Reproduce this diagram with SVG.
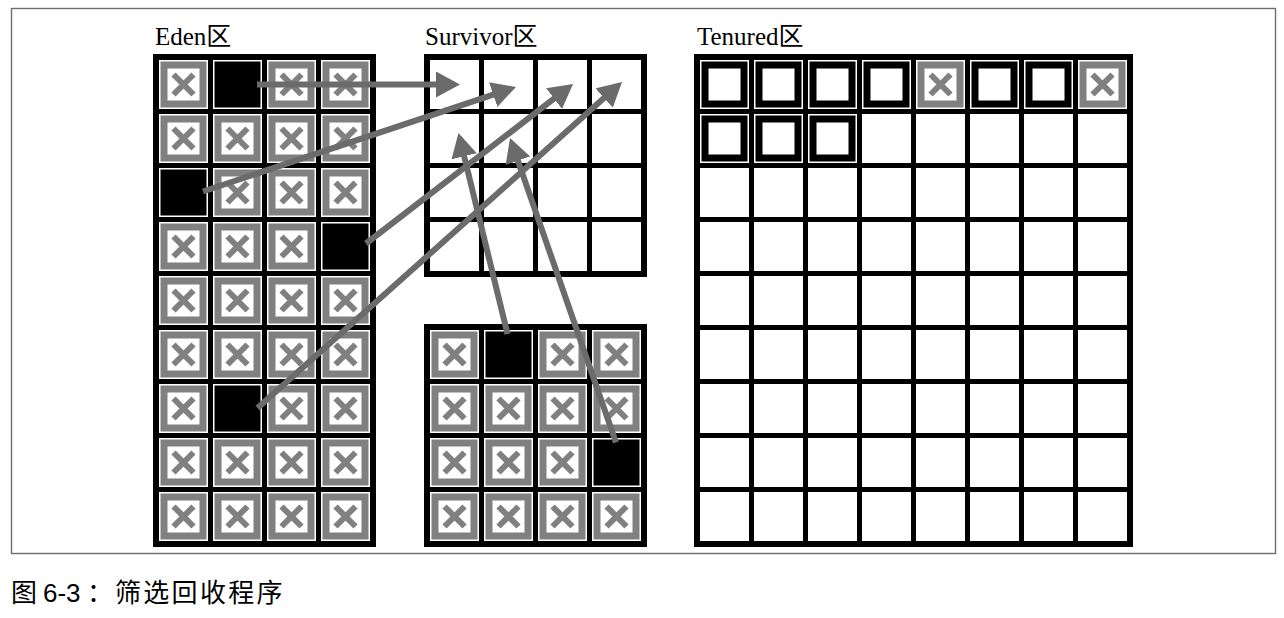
<svg xmlns="http://www.w3.org/2000/svg" width="1284" height="618" viewBox="0 0 1284 618">
<style>
.lbl{font-family:"Liberation Serif","Noto Sans CJK SC",serif;font-size:25px;fill:#000}
.cap{font-family:"Noto Sans CJK SC","Noto Sans",sans-serif;font-size:26px;fill:#000}
.num{font-family:"Liberation Sans","Noto Sans CJK SC",sans-serif}
.frame{fill:#000}
.arrow{stroke:#6b6b6b;stroke-width:6;fill:none;marker-end:url(#ah)}
</style>
<defs>
<marker id="ah" markerUnits="userSpaceOnUse" markerWidth="24" markerHeight="26" refX="4" refY="13" orient="auto" viewBox="0 0 24 26">
<path d="M0,0 L24,13 L0,26 z" fill="#6b6b6b"/>
</marker>
<g id="xc"><rect width="49" height="49" fill="#fff"/><rect x="1.5" y="1.5" width="46" height="46" fill="#808080"/><rect x="8.5" y="8.5" width="32" height="32" fill="#fff"/><path d="M14.5,14.5 L34.5,34.5 M34.5,14.5 L14.5,34.5" stroke="#808080" stroke-width="6"/></g>
<g id="bc"><rect width="49" height="49" fill="#fff"/><rect x="1.5" y="1.5" width="46" height="46" fill="#000"/></g>
<g id="oc"><rect width="49" height="49" fill="#fff"/><rect x="1.5" y="1.5" width="46" height="46" fill="#000"/><rect x="8.5" y="8.5" width="32" height="32" fill="#fff"/></g>
<rect id="ec" width="49" height="49" fill="#fff"/>
</defs>
<rect x="0" y="0" width="1284" height="618" fill="#fff"/>
<rect x="11.5" y="8.5" width="1264" height="545" fill="#fff" stroke="#6e6e6e" stroke-width="1.4"/>

<g id="eden">
<text class="lbl" x="155" y="45">Eden区</text>
<rect class="frame" x="153" y="54" width="223" height="493"/>
<use href="#xc" x="159" y="60"/><use href="#bc" x="213" y="60"/><use href="#xc" x="267" y="60"/><use href="#xc" x="321" y="60"/>
<use href="#xc" x="159" y="114"/><use href="#xc" x="213" y="114"/><use href="#xc" x="267" y="114"/><use href="#xc" x="321" y="114"/>
<use href="#bc" x="159" y="168"/><use href="#xc" x="213" y="168"/><use href="#xc" x="267" y="168"/><use href="#xc" x="321" y="168"/>
<use href="#xc" x="159" y="222"/><use href="#xc" x="213" y="222"/><use href="#xc" x="267" y="222"/><use href="#bc" x="321" y="222"/>
<use href="#xc" x="159" y="276"/><use href="#xc" x="213" y="276"/><use href="#xc" x="267" y="276"/><use href="#xc" x="321" y="276"/>
<use href="#xc" x="159" y="330"/><use href="#xc" x="213" y="330"/><use href="#xc" x="267" y="330"/><use href="#xc" x="321" y="330"/>
<use href="#xc" x="159" y="384"/><use href="#bc" x="213" y="384"/><use href="#xc" x="267" y="384"/><use href="#xc" x="321" y="384"/>
<use href="#xc" x="159" y="438"/><use href="#xc" x="213" y="438"/><use href="#xc" x="267" y="438"/><use href="#xc" x="321" y="438"/>
<use href="#xc" x="159" y="492"/><use href="#xc" x="213" y="492"/><use href="#xc" x="267" y="492"/><use href="#xc" x="321" y="492"/>
</g>

<g id="survivor-to">
<text class="lbl" x="425" y="45">Survivor区</text>
<rect class="frame" x="424" y="54" width="223" height="223"/>
<use href="#ec" x="430" y="60"/><use href="#ec" x="484" y="60"/><use href="#ec" x="538" y="60"/><use href="#ec" x="592" y="60"/>
<use href="#ec" x="430" y="114"/><use href="#ec" x="484" y="114"/><use href="#ec" x="538" y="114"/><use href="#ec" x="592" y="114"/>
<use href="#ec" x="430" y="168"/><use href="#ec" x="484" y="168"/><use href="#ec" x="538" y="168"/><use href="#ec" x="592" y="168"/>
<use href="#ec" x="430" y="222"/><use href="#ec" x="484" y="222"/><use href="#ec" x="538" y="222"/><use href="#ec" x="592" y="222"/>
</g>

<g id="survivor-from">
<rect class="frame" x="424" y="324" width="223" height="223"/>
<use href="#xc" x="430" y="330"/><use href="#bc" x="484" y="330"/><use href="#xc" x="538" y="330"/><use href="#xc" x="592" y="330"/>
<use href="#xc" x="430" y="384"/><use href="#xc" x="484" y="384"/><use href="#xc" x="538" y="384"/><use href="#xc" x="592" y="384"/>
<use href="#xc" x="430" y="438"/><use href="#xc" x="484" y="438"/><use href="#xc" x="538" y="438"/><use href="#bc" x="592" y="438"/>
<use href="#xc" x="430" y="492"/><use href="#xc" x="484" y="492"/><use href="#xc" x="538" y="492"/><use href="#xc" x="592" y="492"/>
</g>

<g id="tenured">
<text class="lbl" x="697" y="45">Tenured区</text>
<rect class="frame" x="694" y="54" width="439" height="493"/>
<use href="#oc" x="700" y="60"/><use href="#oc" x="754" y="60"/><use href="#oc" x="808" y="60"/><use href="#oc" x="862" y="60"/><use href="#xc" x="916" y="60"/><use href="#oc" x="970" y="60"/><use href="#oc" x="1024" y="60"/><use href="#xc" x="1078" y="60"/>
<use href="#oc" x="700" y="114"/><use href="#oc" x="754" y="114"/><use href="#oc" x="808" y="114"/><use href="#ec" x="862" y="114"/><use href="#ec" x="916" y="114"/><use href="#ec" x="970" y="114"/><use href="#ec" x="1024" y="114"/><use href="#ec" x="1078" y="114"/>
<use href="#ec" x="700" y="168"/><use href="#ec" x="754" y="168"/><use href="#ec" x="808" y="168"/><use href="#ec" x="862" y="168"/><use href="#ec" x="916" y="168"/><use href="#ec" x="970" y="168"/><use href="#ec" x="1024" y="168"/><use href="#ec" x="1078" y="168"/>
<use href="#ec" x="700" y="222"/><use href="#ec" x="754" y="222"/><use href="#ec" x="808" y="222"/><use href="#ec" x="862" y="222"/><use href="#ec" x="916" y="222"/><use href="#ec" x="970" y="222"/><use href="#ec" x="1024" y="222"/><use href="#ec" x="1078" y="222"/>
<use href="#ec" x="700" y="276"/><use href="#ec" x="754" y="276"/><use href="#ec" x="808" y="276"/><use href="#ec" x="862" y="276"/><use href="#ec" x="916" y="276"/><use href="#ec" x="970" y="276"/><use href="#ec" x="1024" y="276"/><use href="#ec" x="1078" y="276"/>
<use href="#ec" x="700" y="330"/><use href="#ec" x="754" y="330"/><use href="#ec" x="808" y="330"/><use href="#ec" x="862" y="330"/><use href="#ec" x="916" y="330"/><use href="#ec" x="970" y="330"/><use href="#ec" x="1024" y="330"/><use href="#ec" x="1078" y="330"/>
<use href="#ec" x="700" y="384"/><use href="#ec" x="754" y="384"/><use href="#ec" x="808" y="384"/><use href="#ec" x="862" y="384"/><use href="#ec" x="916" y="384"/><use href="#ec" x="970" y="384"/><use href="#ec" x="1024" y="384"/><use href="#ec" x="1078" y="384"/>
<use href="#ec" x="700" y="438"/><use href="#ec" x="754" y="438"/><use href="#ec" x="808" y="438"/><use href="#ec" x="862" y="438"/><use href="#ec" x="916" y="438"/><use href="#ec" x="970" y="438"/><use href="#ec" x="1024" y="438"/><use href="#ec" x="1078" y="438"/>
<use href="#ec" x="700" y="492"/><use href="#ec" x="754" y="492"/><use href="#ec" x="808" y="492"/><use href="#ec" x="862" y="492"/><use href="#ec" x="916" y="492"/><use href="#ec" x="970" y="492"/><use href="#ec" x="1024" y="492"/><use href="#ec" x="1078" y="492"/>
</g>

<g id="connectors">
<line class="arrow" x1="257" y1="84.5" x2="440" y2="84.5"/>
<line class="arrow" x1="203" y1="191.5" x2="497" y2="93.3"/>
<line class="arrow" x1="366" y1="243.5" x2="557.2" y2="96.2"/>
<line class="arrow" x1="257.5" y1="408" x2="607.1" y2="95.3"/>
<line class="arrow" x1="507.5" y1="334" x2="463.2" y2="152.4"/>
<line class="arrow" x1="616" y1="442.5" x2="516.6" y2="156.9"/>
</g>

<g id="caption">
<text class="cap" y="602"><tspan x="11">图</tspan><tspan class="num" x="43">6-3</tspan><tspan x="87">：</tspan><tspan x="115" letter-spacing="2.3">筛选回收程序</tspan></text>
</g>
</svg>
